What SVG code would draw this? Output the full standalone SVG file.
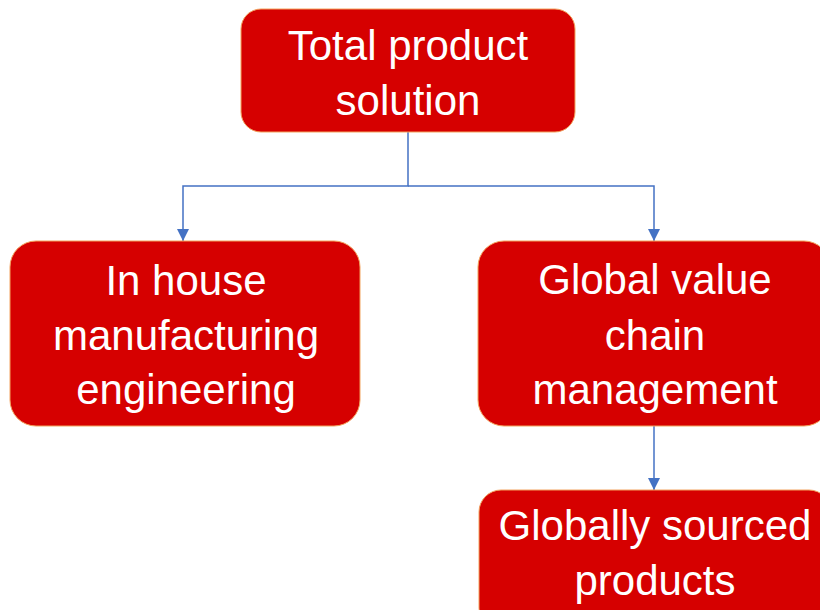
<svg xmlns="http://www.w3.org/2000/svg" width="820" height="610" viewBox="0 0 820 610">
<style>
.box{fill:#d60000;stroke:#f2a35e;stroke-width:1}
.t{font-family:"Liberation Sans",Arial,sans-serif;font-size:42px;fill:#ffffff;text-anchor:middle}
.c{fill:none;stroke:#4472c4;stroke-width:1.5}
</style>
<defs>
<marker id="ah" viewBox="0 0 12 12" refX="12" refY="6" markerWidth="12" markerHeight="12" markerUnits="userSpaceOnUse" orient="auto">
<path d="M0,0 L12,6 L0,12 z" fill="#4472c4"/>
</marker>
</defs>
<g id="connectors">
<path class="c" d="M408,132 V186 H183 V241" marker-end="url(#ah)"/>
<path class="c" d="M408,186 H654 V241" marker-end="url(#ah)"/>
<path class="c" d="M654,426 V490" marker-end="url(#ah)"/>
</g>
<g id="n1">
<rect class="box" x="241" y="9" width="334" height="123" rx="20"/>
<text class="t" x="408" y="60">Total product</text>
<text class="t" x="408" y="115">solution</text>
</g>
<g id="n2">
<rect class="box" x="10" y="241" width="350" height="185" rx="26"/>
<text class="t" x="186" y="295">In house</text>
<text class="t" x="186" y="350">manufacturing</text>
<text class="t" x="186" y="404">engineering</text>
</g>
<g id="n3">
<rect class="box" x="478" y="241" width="352" height="185" rx="26"/>
<text class="t" x="655" y="294">Global value</text>
<text class="t" x="655" y="350">chain</text>
<text class="t" x="655" y="404">management</text>
</g>
<g id="n4">
<rect class="box" x="479" y="490" width="352" height="140" rx="22"/>
<text class="t" x="655" y="540">Globally sourced</text>
<text class="t" x="655" y="595">products</text>
</g>
</svg>
